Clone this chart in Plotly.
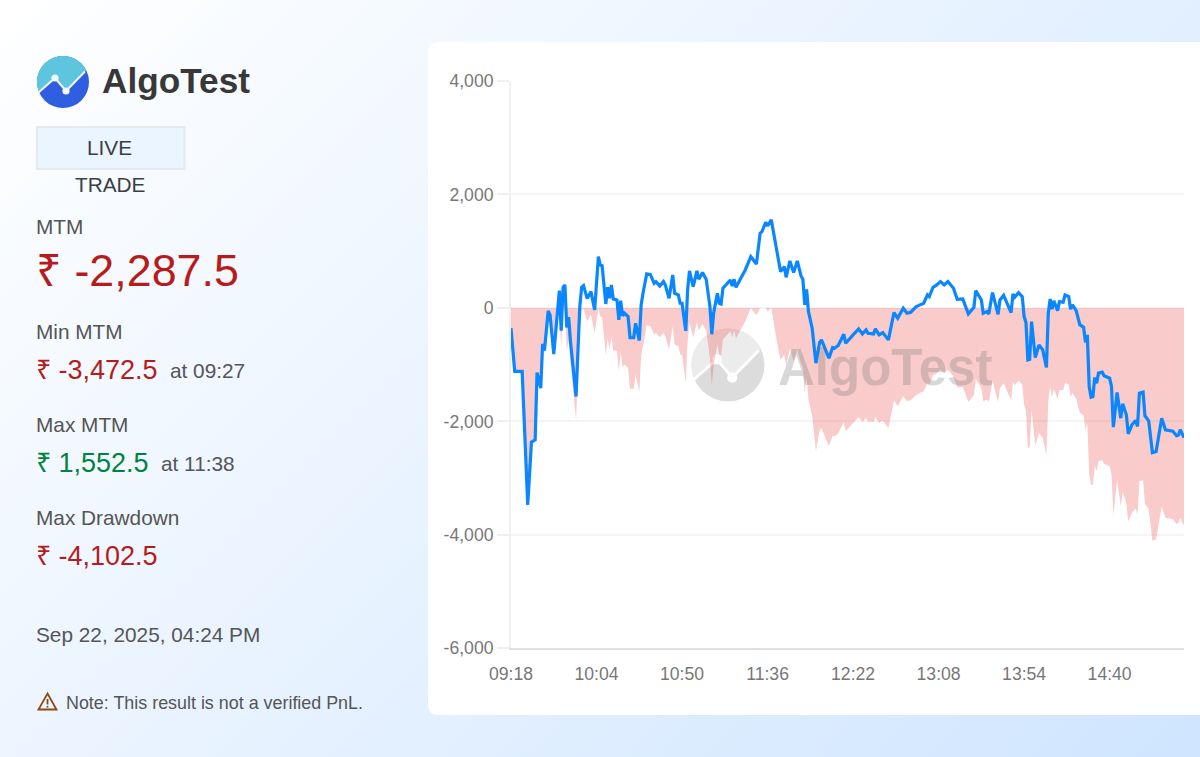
import math
import plotly.graph_objects as go

W, H = 1200, 757
DAY = "2025-09-22 "

times = [
    "09:18", "09:20", "09:24", "09:27", "09:29", "09:31", "09:32", "09:34", "09:35", "09:36",
    "09:38", "09:39", "09:41", "09:43", "09:44", "09:45", "09:46", "09:47", "09:48", "09:49",
    "09:50", "09:53", "09:55", "09:56", "09:57", "09:59", "10:01", "10:03", "10:05", "10:06",
    "10:07", "10:09", "10:10", "10:11", "10:12", "10:13", "10:15", "10:16", "10:17", "10:18",
    "10:19", "10:21", "10:22", "10:24", "10:25", "10:27", "10:28", "10:29", "10:31", "10:33",
    "10:35", "10:36", "10:38", "10:40", "10:41", "10:43", "10:45", "10:46", "10:48", "10:49",
    "10:50", "10:52", "10:53", "10:54", "10:56", "10:58", "10:59", "11:01", "11:03", "11:05",
    "11:06", "11:07", "11:09", "11:10", "11:11", "11:12", "11:16", "11:17", "11:18", "11:19",
    "11:21", "11:24", "11:27", "11:30", "11:32", "11:33", "11:35", "11:36", "11:38", "11:41",
    "11:43", "11:45", "11:46", "11:48", "11:50", "11:52", "11:54", "11:55", "11:56", "11:57",
    "11:58", "12:00", "12:02", "12:04", "12:05", "12:09", "12:11", "12:12", "12:14", "12:17",
    "12:18", "12:22", "12:25", "12:27", "12:29", "12:30", "12:33", "12:34", "12:36", "12:38",
    "12:41", "12:44", "12:46", "12:49", "12:51", "12:53", "12:56", "12:58", "13:00", "13:02",
    "13:03", "13:05", "13:07", "13:09", "13:11", "13:13", "13:16", "13:18", "13:21", "13:24",
    "13:27", "13:28", "13:30", "13:31", "13:32", "13:34", "13:35", "13:37", "13:40", "13:41",
    "13:43", "13:47", "13:48", "13:49", "13:51", "13:53", "13:54", "13:55", "13:56", "13:57",
    "13:58", "14:00", "14:02", "14:04", "14:06", "14:07", "14:08", "14:09", "14:10", "14:12",
    "14:13", "14:15", "14:16", "14:18", "14:19", "14:20", "14:22", "14:24", "14:26", "14:27",
    "14:28", "14:29", "14:30", "14:31", "14:32", "14:33", "14:34", "14:36", "14:37", "14:40",
    "14:41", "14:42", "14:43", "14:44", "14:46", "14:47", "14:49", "14:50", "14:52", "14:54",
    "14:55", "14:56", "14:58", "14:59", "15:01", "15:03", "15:05", "15:08", "15:10", "15:14",
    "15:16", "15:17", "15:18", "15:20",
]

mtm = [
    -358, -1120, -1120, -3472.5, -2365, -2325, -1139, -1415, -634, -751,
    -53, -123, -816, -100, 305, -400, 364, 405, -346, -164,
    -593, -1561, 23, 364, 393, 164, 288, -35, 904, 757,
    745, 70, 364, 170, 405, 158, 140, -211, 129, -141,
    -94, -153, -522, -522, -270, -575, 53, 258, 599, 587,
    434, 463, 387, 464, 405, 170, 581, 258, 229, 82,
    82, -405, 317, 652, 376, 652, 505, 622, 505, 23,
    -464, -94, 258, 82, 70, 346, 493, 387, 505, 364,
    493, 669, 904, 775, 1315, 1344, 1509, 1444, 1552.5, 963,
    640, 728, 540, 828, 622, 828, 563, 505, 53, 329,
    -65, -358, -974, -610, -563, -886, -698, -710, -663, -464,
    -622, -475, -370, -458, -387, -446, -458, -370, -475, -434,
    -563, -82, -182, -6, -94, -76, 23, 53, 82, 229,
    200, 364, 405, 464, 405, 464, 346, 153, 158, -106,
    12, 305, 188, 141, -94, -65, -106, 270, -112, 141,
    223, -82, 247, 188, 270, 200, -153, -258, -916, -905,
    -241, -875, -652, -740, -1051, -94, 158, -23, 123, -47,
    111, 100, 229, 200, -23, 53, -47, -300, -340, -605,
    -475, -1385, -1573, -1561, -1227, -1327, -1150, -1133, -1197, -1239,
    -1385, -2101, -1796, -1491, -1943, -1691, -1884, -2219, -2060, -1984,
    -2090, -1503, -1485, -1902, -1990, -2550, -2530, -1943, -2148, -2172,
    -2254, -2245, -2148, -2287.5,
]

drawdown = [
    -358, -1120, -1120, -3472.5, -2365, -2325, -1139, -1415, -634, -751,
    -53, -123, -816, -100, 0, -705, 0, 0, -751, -569,
    -998, -1966, -382, -41, -12, -241, -117, -440, 0, -147,
    -159, -834, -540, -734, -499, -746, -764, -1115, -775, -1045,
    -998, -1057, -1426, -1426, -1174, -1479, -851, -646, -305, -317,
    -470, -441, -517, -440, -499, -734, -323, -646, -675, -822,
    -822, -1309, -587, -252, -528, -252, -399, -282, -399, -881,
    -1368, -998, -646, -822, -834, -558, -411, -517, -399, -540,
    -411, -235, 0, -129, 0, 0, 0, -65, 0, -590,
    -912, -824, -1012, -724, -930, -724, -989, -1047, -1499, -1223,
    -1617, -1910, -2526, -2162, -2115, -2438, -2250, -2262, -2215, -2016,
    -2174, -2027, -1922, -2010, -1939, -1998, -2010, -1922, -2027, -1986,
    -2115, -1634, -1734, -1558, -1646, -1628, -1529, -1499, -1470, -1323,
    -1352, -1188, -1147, -1088, -1147, -1088, -1206, -1399, -1394, -1658,
    -1540, -1247, -1364, -1411, -1646, -1617, -1658, -1282, -1664, -1411,
    -1329, -1634, -1305, -1364, -1282, -1352, -1705, -1810, -2468, -2457,
    -1793, -2427, -2204, -2292, -2603, -1646, -1394, -1575, -1429, -1599,
    -1441, -1452, -1323, -1352, -1575, -1499, -1599, -1852, -1892, -2157,
    -2027, -2937, -3125, -3113, -2779, -2879, -2702, -2685, -2749, -2791,
    -2937, -3653, -3348, -3043, -3495, -3243, -3436, -3771, -3612, -3536,
    -3642, -3055, -3037, -3454, -3542, -4102.5, -4082, -3495, -3700, -3724,
    -3806, -3797, -3700, -3840,
]

x_ticks = ["09:18", "10:04", "10:50", "11:36", "12:22", "13:08", "13:54", "14:40"]
y_ticks = [4000, 2000, 0, -2000, -4000, -6000]
y_tick_labels = ["4,000", "2,000", "0", "-2,000", "-4,000", "-6,000"]

FONT = "Liberation Sans, Arial, sans-serif"
RED = "#b71c1c"
GREEN = "#00843d"
GREY = "#555555"
TICK_GREY = "#777777"


def X(px):
    return px / W


def Y(py):
    return 1 - py / H


def poly_path(points, close=True):
    d = "M" + " L".join(f"{X(a):.5f},{Y(b):.5f}" for a, b in points)
    return d + (" Z" if close else "")


def circle_shape(cx, cy, r, color, opacity=1, line=None):
    return dict(type="circle", xref="paper", yref="paper", layer="below",
                x0=X(cx - r), x1=X(cx + r), y0=Y(cy + r), y1=Y(cy - r),
                fillcolor=color, opacity=opacity, line=line or dict(width=0))


def logo_shapes(cx, cy, r, top, bottom, stroke, opacity=1):
    # zig-zag line splits the disc into an upper and lower part
    s = r / 26
    zig = [(-24.5, 10.5), (-8, -4), (3, 9), (22, -10.5)]
    zig = [(cx + a * s, cy + b * s) for a, b in zig]
    a0 = math.atan2(zig[-1][1] - cy, zig[-1][0] - cx)
    a1 = math.atan2(zig[0][1] - cy, zig[0][0] - cx) - 2 * math.pi
    arc = [(cx + r * math.cos(a0 + (a1 - a0) * i / 40), cy + r * math.sin(a0 + (a1 - a0) * i / 40))
           for i in range(41)]
    out = [
        circle_shape(cx, cy, r, bottom, opacity),
        dict(type="path", xref="paper", yref="paper", layer="below", path=poly_path(zig + arc),
             fillcolor=top, opacity=opacity, line=dict(width=0)),
        dict(type="path", xref="paper", yref="paper", layer="below", path=poly_path(zig, close=False),
             line=dict(color=stroke, width=2 * s)),
    ]
    for p in zig[1:3]:
        out.append(circle_shape(p[0], p[1], 3.6 * s, stroke))
    return out


fig = go.Figure()

fig.add_trace(go.Scatter(
    x=[DAY + t for t in times], y=drawdown, mode="lines", fill="tozeroy",
    line=dict(width=0), fillcolor="rgba(235,70,70,0.28)", hoverinfo="skip", showlegend=False,
))
fig.add_trace(go.Scatter(
    x=[DAY + t for t in times], y=mtm, mode="lines",
    line=dict(color="#0a86ff", width=3.2), showlegend=False,
))

# white card behind the chart
rad = 10
card = poly_path([(428 + rad, 42), (1200, 42), (1200, 715), (428 + rad, 715)], close=False)
card += f" Q{X(428):.5f},{Y(715):.5f} {X(428):.5f},{Y(715 - rad):.5f} L{X(428):.5f},{Y(42 + rad):.5f}"
card += f" Q{X(428):.5f},{Y(42):.5f} {X(428 + rad):.5f},{Y(42):.5f} Z"

shapes = [dict(type="path", xref="paper", yref="paper", layer="below", path=card,
               fillcolor="white", line=dict(width=0))]
shapes += logo_shapes(63, 82, 26, "#5ec5de", "#2f5fe0", "#f4f9ff")
shapes += logo_shapes(728, 365, 36.5, "#ececec", "#dcdcdc", "#ffffff")

# LIVE tab
shapes.append(dict(type="rect", xref="paper", yref="paper", layer="below",
                   x0=X(37), x1=X(184.5), y0=Y(169), y1=Y(127),
                   fillcolor="#ebf5ff", line=dict(color="#e3e9ee", width=2)))

# warning icon next to the note
shapes.append(dict(type="path", xref="paper", yref="paper", layer="below",
                   path=poly_path([(47.5, 693.5), (56.5, 709.5), (38.5, 709.5)]),
                   fillcolor="rgba(0,0,0,0)", line=dict(color="#8a4b0f", width=1.8)))
shapes.append(dict(type="line", xref="paper", yref="paper", layer="below",
                   x0=X(47.5), x1=X(47.5), y0=Y(699), y1=Y(704.5),
                   line=dict(color="#8a4b0f", width=1.8)))
shapes.append(circle_shape(47.5, 706.8, 1, "#8a4b0f"))

texts = [
    ("AlgoTest", 101, 81, 35.2, "#383838", True, "left"),
    ("LIVE", 110, 148, 20.8, "#3a3f45", False, "center"),
    ("TRADE", 110, 184, 20.8, "#3a3f45", False, "center"),
    ("MTM", 35, 226.5, 20.8, GREY, False, "left"),
    ("₹ -2,287.5", 35, 270, 44.8, RED, False, "left"),
    ("Min MTM", 35, 331, 20.8, GREY, False, "left"),
    ("₹ -3,472.5", 35, 370, 27, RED, False, "left"),
    ("at 09:27", 169, 370, 20.8, GREY, False, "left"),
    ("Max MTM", 35, 424, 20.8, GREY, False, "left"),
    ("₹ 1,552.5", 35, 463, 27, GREEN, False, "left"),
    ("at 11:38", 160, 463, 20.8, GREY, False, "left"),
    ("Max Drawdown", 35, 517, 20.8, GREY, False, "left"),
    ("₹ -4,102.5", 35, 556, 27, RED, False, "left"),
    ("Sep 22, 2025, 04:24 PM", 35, 634, 20.8, GREY, False, "left"),
    ("Note: This result is not a verified PnL.", 65, 703, 17.9, GREY, False, "left"),
]
annotations = []
for label, px, py, size, color, bold, anchor in texts:
    annotations.append(dict(
        text=f"<b>{label}</b>" if bold else label, xref="paper", yref="paper",
        x=X(px), y=Y(py), xanchor=anchor, yanchor="middle", showarrow=False,
        borderpad=0, font=dict(family=FONT, size=size, color=color),
    ))
annotations.append(dict(
    text="<b>AlgoTest</b>", xref="paper", yref="paper", x=X(777), y=Y(367),
    xanchor="left", yanchor="middle", showarrow=False, borderpad=0,
    font=dict(family=FONT, size=51, color="rgba(110,110,110,0.27)"),
))

fig.update_layout(
    width=W, height=H, autosize=False,
    margin=dict(l=0, r=0, t=0, b=0),
    paper_bgcolor="rgba(0,0,0,0)", plot_bgcolor="rgba(0,0,0,0)",
    shapes=shapes, annotations=annotations,
    hovermode="x",
    xaxis=dict(
        type="date", domain=[X(511), X(1184)], automargin=False,
        range=[DAY + "09:18", DAY + "15:20"],
        tickmode="array", tickvals=[DAY + t for t in x_ticks], ticktext=x_ticks,
        showgrid=False, zeroline=False, showline=True, linecolor="#e0e0e0", linewidth=1.5,
        ticks="", ticklabelstandoff=9,
        tickfont=dict(family=FONT, size=17.6, color=TICK_GREY),
    ),
    yaxis=dict(
        domain=[Y(648.3), Y(81)], range=[-6000, 4000], automargin=False,
        tickmode="array", tickvals=y_ticks, ticktext=y_tick_labels,
        showgrid=True, gridcolor="#f4f4f4", gridwidth=1.5, zeroline=False,
        showline=True, linecolor="#f0f0f0", linewidth=2,
        ticks="outside", ticklen=12, tickcolor="#f0f0f0", tickwidth=1.5,
        ticklabelstandoff=0,
        tickfont=dict(family=FONT, size=17.6, color=TICK_GREY),
    ),
)

fig.write_html(
    "out.html",
    config=dict(displayModeBar=False),
    post_script="document.documentElement.style.height='100%';"
                "document.body.style.margin='0';document.body.style.height='100%';"
                "document.body.style.overflow='hidden';"
                "document.body.style.background='linear-gradient(135deg,#ffffff 0%,#cfe5ff 100%)';",
)
